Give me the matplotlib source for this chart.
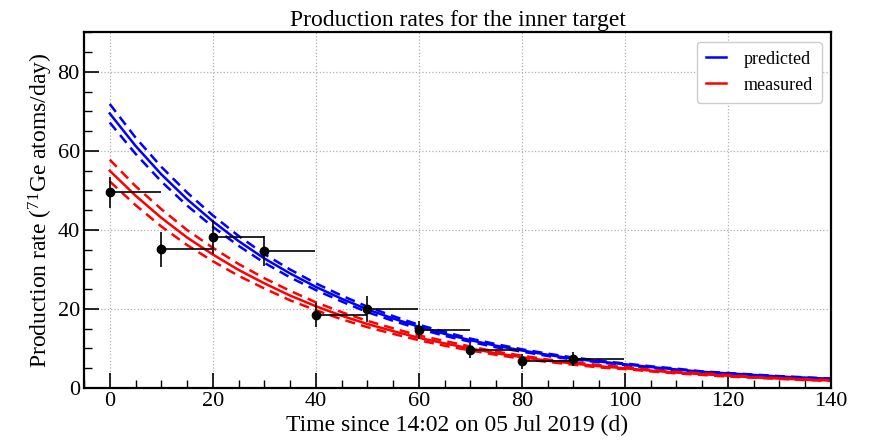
import matplotlib
matplotlib.use('Agg')
import matplotlib.pyplot as plt
from matplotlib.ticker import MultipleLocator

plt.rcParams['font.family'] = ['Liberation Serif', 'DejaVu Serif']
plt.rcParams['mathtext.fontset'] = 'custom'
plt.rcParams['mathtext.rm'] = 'Liberation Serif'
plt.rcParams['mathtext.default'] = 'regular'

# measured points (start of each 10 day bin)
t_meas = [0, 10, 20, 30, 40, 50, 60, 70, 80, 90]
r_meas = [49.5, 35.1, 38.3, 34.7, 18.4, 20.0, 14.7, 9.5, 6.8, 7.3]
r_err = [4.0, 4.5, 4.3, 3.8, 3.0, 3.3, 2.3, 2.0, 1.9, 1.8]
bin_width = [9.9, 9.9, 9.9, 9.9, 9.9, 9.9, 9.9, 9.9, 9.9, 9.9]

# curves read every 5 days
t_curve = [0, 5, 10, 15, 20, 25, 30, 35, 40, 45, 50, 55, 60, 65, 70,
           75, 80, 85, 90, 95, 100, 105, 110, 115, 120, 125, 130, 135, 140]
pred = [69.5, 61.3, 54.1, 47.8, 42.2, 37.2, 32.8, 29.0, 25.6, 22.6, 19.9, 17.6, 15.5, 13.7, 12.1,
        10.7, 9.5, 8.4, 7.4, 6.7, 6.0, 5.3, 4.7, 4.1, 3.7, 3.3, 2.9, 2.6, 2.3]
pred_hi = [71.9, 63.4, 56.0, 49.5, 43.7, 38.5, 33.9, 30.0, 26.5, 23.4, 20.6, 18.2, 16.0, 14.2, 12.5,
           11.1, 9.8, 8.7, 7.7, 6.9, 6.2, 5.5, 4.9, 4.2, 3.8, 3.4, 3.0, 2.7, 2.4]
pred_lo = [67.2, 59.3, 52.3, 46.2, 40.8, 36.0, 31.7, 28.0, 24.8, 21.9, 19.2, 17.0, 15.0, 13.2, 11.7,
           10.3, 9.2, 8.1, 7.2, 6.5, 5.8, 5.1, 4.5, 4.0, 3.6, 3.2, 2.8, 2.5, 2.2]
meas = [55.0, 48.7, 43.1, 38.1, 33.8, 29.9, 26.5, 23.4, 20.7, 18.3, 16.2, 14.4, 12.7, 11.3, 10.0,
        8.8, 7.8, 6.9, 6.2, 5.5, 5.0, 4.4, 3.9, 3.5, 3.1, 2.7, 2.4, 2.1, 1.9]
meas_hi = [57.8, 51.1, 45.3, 40.0, 35.5, 31.4, 27.8, 24.6, 21.7, 19.2, 17.0, 15.1, 13.3, 11.9, 10.5,
           9.2, 8.2, 7.2, 6.5, 5.8, 5.3, 4.6, 4.1, 3.7, 3.3, 2.8, 2.5, 2.2, 2.0]
meas_lo = [52.3, 46.3, 40.9, 36.2, 32.1, 28.4, 25.2, 22.2, 19.7, 17.4, 15.4, 13.7, 12.1, 10.7, 9.5,
           8.4, 7.4, 6.6, 5.9, 5.2, 4.8, 4.2, 3.7, 3.3, 2.9, 2.6, 2.3, 2.0, 1.8]

fig = plt.figure(figsize=(8.74, 4.42), dpi=100)
ax = fig.add_axes([0.0961, 0.1222, 0.8547, 0.8043])

dash = (0, (4, 2.5))
ax.plot(t_curve, pred, color='blue', lw=1.8, label='predicted')
ax.plot(t_curve, pred_hi, color='blue', lw=1.8, ls=dash)
ax.plot(t_curve, pred_lo, color='blue', lw=1.8, ls=dash)
ax.plot(t_curve, meas, color='red', lw=1.8, label='measured')
ax.plot(t_curve, meas_hi, color='red', lw=1.8, ls=dash)
ax.plot(t_curve, meas_lo, color='red', lw=1.8, ls=dash)

ax.errorbar(t_meas, r_meas, yerr=r_err, xerr=[[0] * len(t_meas), bin_width],
            fmt='o', color='black', ms=6, elinewidth=1.2, capsize=0, zorder=5)

ax.set_xlim(-5, 140)
ax.set_ylim(0, 90)
ax.xaxis.set_major_locator(MultipleLocator(20))
ax.xaxis.set_minor_locator(MultipleLocator(5))
ax.yaxis.set_major_locator(MultipleLocator(20))
ax.yaxis.set_minor_locator(MultipleLocator(5))
ax.tick_params(which='both', direction='in', labelsize=16)
ax.tick_params(which='major', length=11, width=1.2, pad=3)
ax.tick_params(which='minor', length=6, width=1)
ax.grid(True, which='major', ls=':', color='#b0b0b0', lw=0.9)
for s in ax.spines.values():
    s.set_linewidth(1.6)

ax.set_title('Production rates for the inner target', fontsize=17, pad=5)
ax.set_xlabel('Time since 14:02 on 05 Jul 2019 (d)', fontsize=17, labelpad=3)
ax.set_ylabel('Production rate ($^{71}$Ge atoms/day)', fontsize=17, labelpad=2)

leg = ax.legend(loc='upper right', fontsize=13, handlelength=1.1, borderpad=0.5,
                handletextpad=1.0, fancybox=True, framealpha=1)
leg.get_frame().set_edgecolor('#cccccc')

fig.savefig('out.png', dpi=100)
